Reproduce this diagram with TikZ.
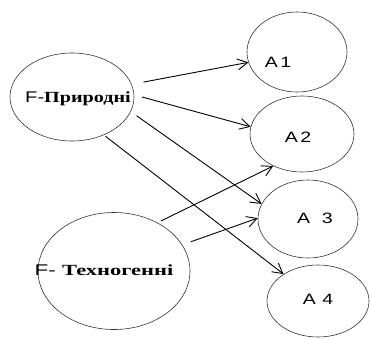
\documentclass[tikz,border=0pt]{standalone}
\usepackage{fontspec}
\usepackage{graphicx}
\setmainfont{Liberation Serif}
\setsansfont{Liberation Sans}
\usetikzlibrary{shapes.geometric,arrows.meta}
\newcommand{\widetext}[2][1.3]{\scalebox{#1}[1]{#2}}
\begin{document}
\begin{tikzpicture}[x=1pt,y=-1pt,
  oval/.style={draw=black!80, line width=0.6pt, ellipse, inner sep=0pt},
  lbl/.style={font=\fontsize{15.5}{18}\selectfont, inner sep=0pt, anchor=center},
  albl/.style={font=\fontsize{15}{18}\selectfont\sffamily, inner sep=0pt, anchor=center},
  arr/.style={-{Straight Barb[length=10pt,width=11pt]}, line width=0.9pt}
]
\useasboundingbox (0,0) rectangle (370,338);

\node[oval, minimum width=124pt, minimum height=88pt] (fp) at (72,97) {};
\node[oval, minimum width=152pt, minimum height=117pt] (ft) at (114,271) {};
\node[oval, minimum width=100pt, minimum height=80pt] (a1) at (297,52) {};
\node[oval, minimum width=104pt, minimum height=76pt] (a2) at (302,134) {};
\node[oval, minimum width=100pt, minimum height=78pt] (a3) at (308,219) {};
\node[oval, minimum width=102pt, minimum height=72pt] (a4) at (318,301) {};

\node[lbl] (tfp) at (78,99) {\widetext{\sffamily F-\rmfamily\bfseries Природні}};
\node[lbl] (tft) at (104,270) {\widetext[1.45]{\sffamily F- \rmfamily\bfseries Техногенні}};
\node[albl] (t1) at (278,62) {\widetext{A\hspace{2pt}1}};
\node[albl] (t2) at (298,137) {\widetext{A\hspace{2pt}2}};
\node[albl] (t3) at (315,218) {\widetext{A\hspace{9pt}3}};
\node[albl] (t4) at (318,299) {\widetext{A\hspace{5pt}4}};

\draw[arr, shorten <=12pt] (fp.12) -- (a1.192);
\draw[arr, shorten <=8pt] (fp.2) -- (a2.172);
\draw[arr, shorten <=7pt] (fp.-14) -- (a3.162);
\draw[arr, shorten <=2pt] (fp.-50) -- (a4.142);
\draw[arr, shorten <=4pt] (ft.48) -- (a2.228);
\draw[arr, shorten <=9pt] (ft.21) -- (a3.179);
\end{tikzpicture}
\end{document}
